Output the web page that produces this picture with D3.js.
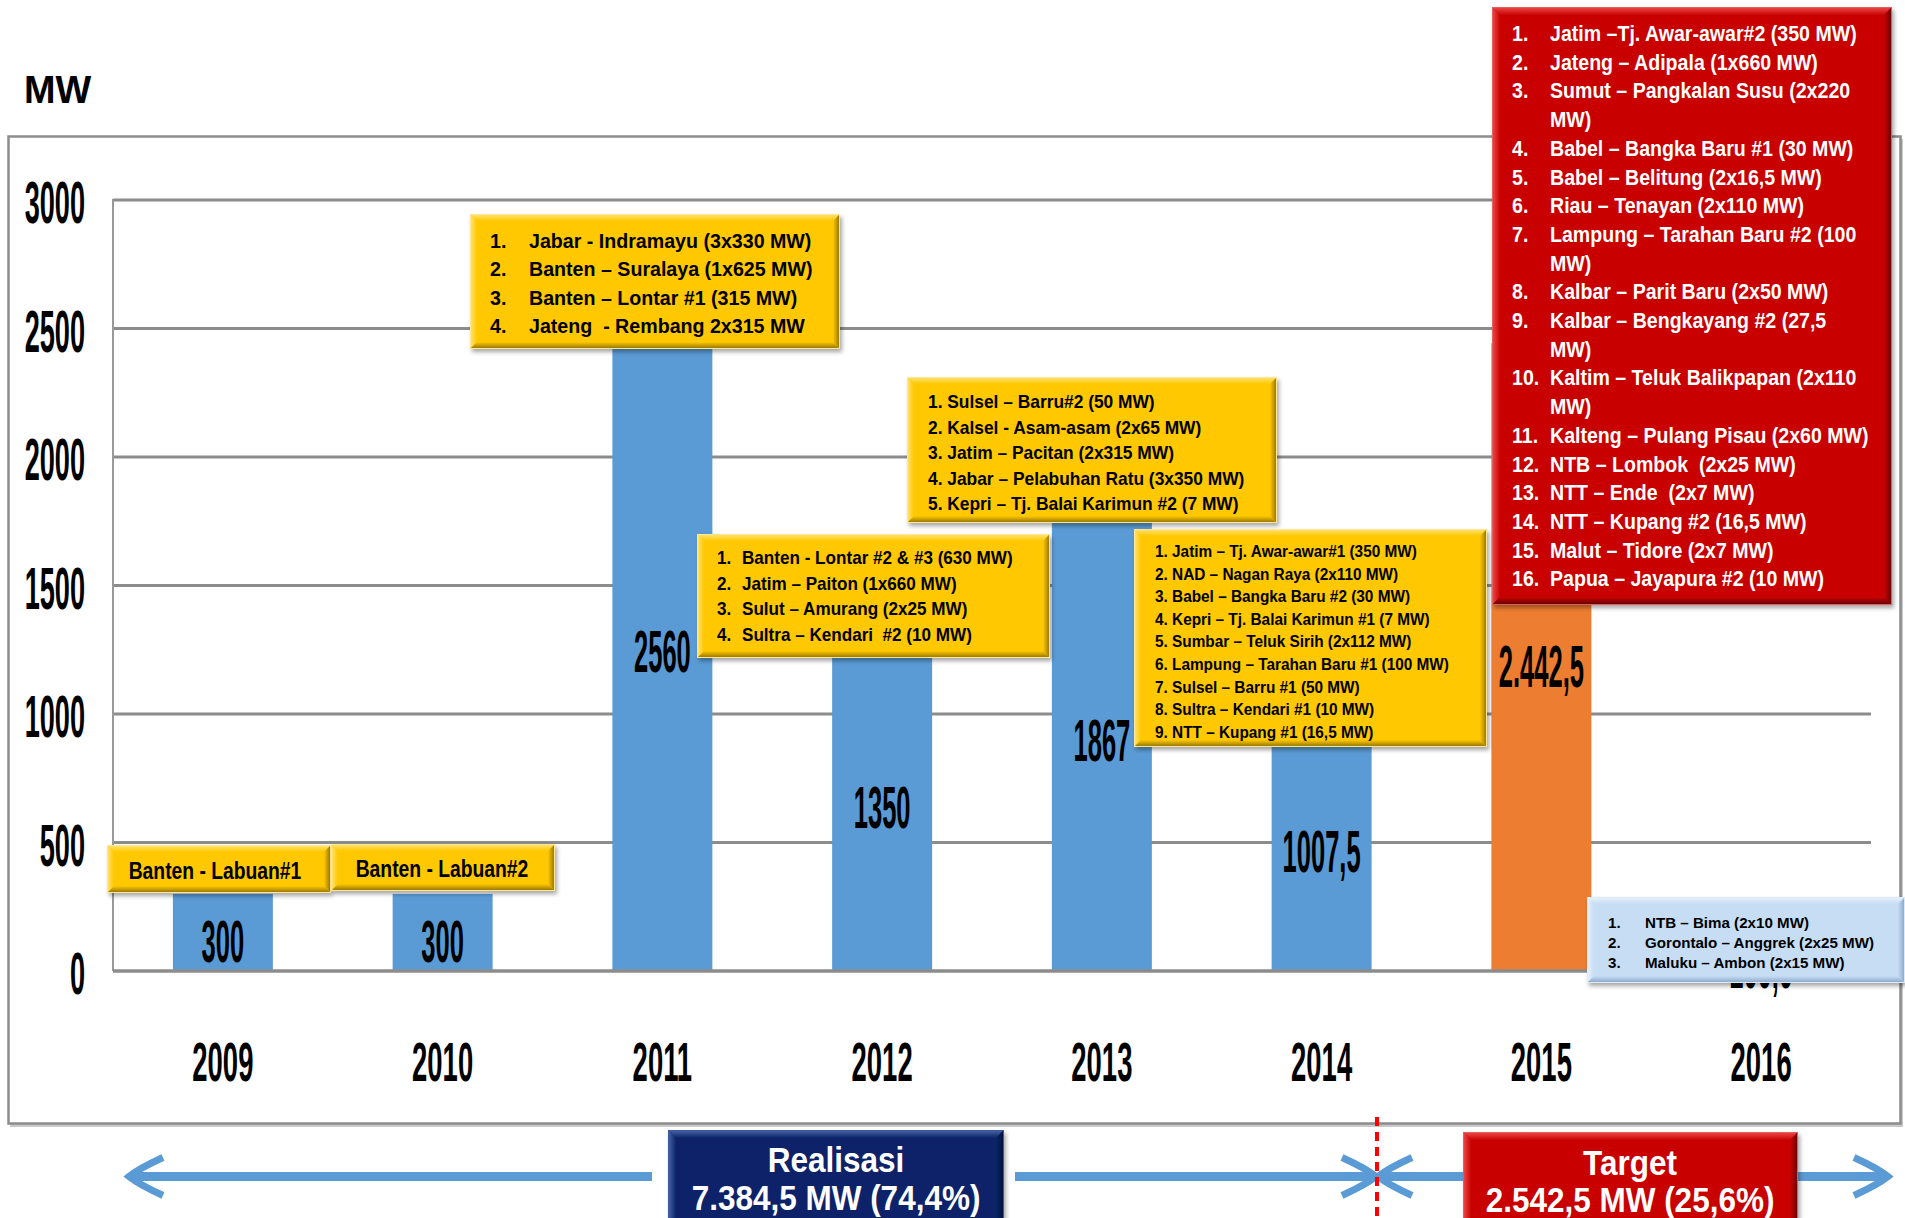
<!DOCTYPE html>
<html><head><meta charset="utf-8">
<script src="https://cdn.jsdelivr.net/npm/d3@7"></script>
<style>
html,body{margin:0;padding:0;background:#fff;overflow:hidden}
svg{display:block}
text{font-family:"Liberation Sans",Arial,sans-serif;font-weight:bold}
</style>
</head><body>
<svg id="chart" width="1905" height="1218"></svg>
<script>
// ---------------- data ----------------
const years = ["2009","2010","2011","2012","2013","2014","2015","2016"];
const values = [300, 300, 2560, 1350, 1867, 1007.5, 2442.5, 100];
const valueLabels = ["300","300","2560","1350","1867","1007,5","2.442,5","100,0"];
const phase = ["real","real","real","real","real","real","target","target"];
const yTicks = [0, 500, 1000, 1500, 2000, 2500, 3000];
const yTickLabels = ["0","500","1000","1500","2000","2500","3000"];

const list2009 = ["Banten - Labuan#1"];
const list2010 = ["Banten - Labuan#2"];
const list2011 = [["Jabar - Indramayu (3x330 MW)"],["Banten – Suralaya (1x625 MW)"],["Banten – Lontar #1 (315 MW)"],["Jateng  - Rembang 2x315 MW"]];
const list2012 = [["Banten - Lontar #2 & #3 (630 MW)"],["Jatim – Paiton (1x660 MW)"],["Sulut – Amurang (2x25 MW)"],["Sultra – Kendari  #2 (10 MW)"]];
const list2013 = [["Sulsel – Barru#2 (50 MW)"],["Kalsel - Asam-asam (2x65 MW)"],["Jatim – Pacitan (2x315 MW)"],["Jabar – Pelabuhan Ratu (3x350 MW)"],["Kepri – Tj. Balai Karimun #2 (7 MW)"]];
const list2014 = [["Jatim – Tj. Awar-awar#1 (350 MW)"],["NAD – Nagan Raya (2x110 MW)"],["Babel – Bangka Baru #2 (30 MW)"],["Kepri – Tj. Balai Karimun #1 (7 MW)"],["Sumbar – Teluk Sirih (2x112 MW)"],["Lampung – Tarahan Baru #1 (100 MW)"],["Sulsel – Barru #1 (50 MW)"],["Sultra – Kendari #1 (10 MW)"],["NTT – Kupang #1 (16,5 MW)"]];
const list2015 = [["Jatim –Tj. Awar-awar#2 (350 MW)"],["Jateng – Adipala (1x660 MW)"],["Sumut – Pangkalan Susu (2x220","MW)"],["Babel – Bangka Baru #1 (30 MW)"],["Babel – Belitung (2x16,5 MW)"],["Riau – Tenayan (2x110 MW)"],["Lampung – Tarahan Baru #2 (100","MW)"],["Kalbar – Parit Baru (2x50 MW)"],["Kalbar – Bengkayang #2 (27,5","MW)"],["Kaltim – Teluk Balikpapan (2x110","MW)"],["Kalteng – Pulang Pisau (2x60 MW)"],["NTB – Lombok  (2x25 MW)"],["NTT – Ende  (2x7 MW)"],["NTT – Kupang #2 (16,5 MW)"],["Malut – Tidore (2x7 MW)"],["Papua – Jayapura #2 (10 MW)"]];
const list2016 = [["NTB – Bima (2x10 MW)"],["Gorontalo – Anggrek (2x25 MW)"],["Maluku – Ambon (2x15 MW)"]];
const realisasiText = ["Realisasi","7.384,5 MW (74,4%)"];
const targetText = ["Target","2.542,5 MW (25,6%)"];

// ---------------- setup ----------------
const svg = d3.select("#chart");
svg.append("rect").attr("width",1905).attr("height",1218).attr("fill","#fff");
const defs = svg.append("defs");

const x = d3.scaleBand().domain(years).range([113, 1871]).paddingInner(0.545).paddingOuter(0.2725);
const y = d3.scaleLinear().domain([0, 3000]).range([971, 200]);

function txt(parent, s, tx, ty, o) {
  return parent.append("text")
    .attr("transform", `translate(${tx},${ty}) scale(${o.sx||1},${o.sy||1})`)
    .attr("text-anchor", o.anchor || "start")
    .attr("font-size", o.size)
    .attr("fill", o.fill || "#000")
    .attr("xml:space","preserve")
    .text(s);
}

const schemes = {
  yellow: {base:"#FFC800", light:"#FFE57A", dark:"#8C6E00", edge:"#FFE699"},
  red:    {base:"#C80404", light:"#F24A4A", dark:"#5E0000", edge:"#E06060"},
  blue:   {base:"#C6DDF4", light:"#EAF3FC", dark:"#86A3C6", edge:"#DDEBF7"},
  navy:   {base:"#0A2468", light:"#4A67A8", dark:"#00103A", edge:"#3C5A9A"},
  tred:   {base:"#C80404", light:"#F24A4A", dark:"#6A0000", edge:"#E06060"}
};
Object.entries(schemes).forEach(([k, c]) => {
  const mk = (id, x1,y1,x2,y2, c1, c2) => {
    const g = defs.append("linearGradient").attr("id", id)
      .attr("x1",x1).attr("y1",y1).attr("x2",x2).attr("y2",y2);
    g.append("stop").attr("offset","0").attr("stop-color",c1);
    g.append("stop").attr("offset","1").attr("stop-color",c2);
  };
  mk(k+"-top", 0,0,0,1, c.light, c.base);
  mk(k+"-left", 0,0,1,0, c.light, c.base);
  mk(k+"-right", 0,0,1,0, c.base, c.dark);
  mk(k+"-bottom", 0,0,0,1, c.base, c.dark);
});
const sh = defs.append("filter").attr("id","shadow").attr("x","-10%").attr("y","-10%").attr("width","130%").attr("height","130%");
sh.append("feDropShadow").attr("dx",2).attr("dy",3).attr("stdDeviation",2).attr("flood-color","#000").attr("flood-opacity",0.35);

function bevelBox(parent, bx, by, w, h, scheme, b) {
  const c = schemes[scheme];
  const g = parent.append("g");
  g.append("rect").attr("x",bx).attr("y",by).attr("width",w).attr("height",h)
    .attr("fill",c.base).attr("filter","url(#shadow)");
  const poly = (pts, fill) => g.append("polygon").attr("points", pts.map(p=>p.join(",")).join(" ")).attr("fill", fill);
  poly([[bx,by],[bx+w,by],[bx+w-b,by+b],[bx+b,by+b]], `url(#${scheme}-top)`);
  poly([[bx,by],[bx+b,by+b],[bx+b,by+h-b],[bx,by+h]], `url(#${scheme}-left)`);
  poly([[bx+w,by],[bx+w,by+h],[bx+w-b,by+h-b],[bx+w-b,by+b]], `url(#${scheme}-right)`);
  poly([[bx,by+h],[bx+w,by+h],[bx+w-b,by+h-b],[bx+b,by+h-b]], `url(#${scheme}-bottom)`);
  g.append("rect").attr("x",bx+0.5).attr("y",by+0.5).attr("width",w-1).attr("height",h-1)
    .attr("fill","none").attr("stroke",c.edge).attr("stroke-width",1);
  return g;
}

function listBox(spec) {
  const g = bevelBox(svg, spec.bx, spec.by, spec.w, spec.h, spec.scheme, spec.bevel || 7);
  let k = 0;
  spec.items.forEach((lines, i) => {
    lines.forEach((ln, j) => {
      const ty = spec.base0 + k * spec.step;
      const o = {size: spec.size, sx: spec.sx, sy: spec.sy, fill: spec.fill};
      if (spec.inline) {
        txt(g, (j === 0 ? (i+1) + ". " : "") + ln, spec.numX, ty, o);
      } else {
        if (j === 0) txt(g, (i+1) + ".", spec.numX, ty, o);
        txt(g, ln, spec.textX, ty, o);
      }
      k++;
    });
  });
}

// ---------------- frame ----------------
svg.append("rect").attr("x",10).attr("y",139).attr("width",1893).attr("height",988).attr("fill","#c8c8c8");
svg.append("rect").attr("x",8.5).attr("y",136.5).attr("width",1892).attr("height",987)
  .attr("fill","#fff").attr("stroke","#8c8c8c").attr("stroke-width",2.5);

txt(svg, "MW", 24, 103, {size: 39, sx: 0.97});

// ---------------- grid & axes ----------------
const plot = svg.append("g");
plot.selectAll("line.grid").data(yTicks.filter(d => d > 0)).enter().append("line")
  .attr("x1",113).attr("x2",1871).attr("y1",d=>y(d)).attr("y2",d=>y(d))
  .attr("stroke","#8c8c8c").attr("stroke-width",3);
plot.append("line").attr("x1",113).attr("x2",113).attr("y1",y(3000)-1).attr("y2",y(0))
  .attr("stroke","#999").attr("stroke-width",2);

yTicks.forEach((t, i) => {
  txt(plot, yTickLabels[i], 85, y(t) + 23, {size: 59, sx: 0.46, anchor: "end"});
});
years.forEach(yr => {
  txt(plot, yr, x(yr) + x.bandwidth()/2, 1081, {size: 56, sx: 0.49, anchor: "middle"});
});

// ---------------- bars ----------------
const bars = svg.append("g");
bars.selectAll("rect").data(years).enter().append("rect")
  .attr("x", d => x(d)).attr("width", x.bandwidth())
  .attr("y", (d,i) => y(values[i])).attr("height", (d,i) => y(0) - y(values[i]))
  .attr("fill", (d,i) => phase[i] === "real" ? "#5B9BD5" : "#ED7D31");
svg.append("line").attr("x1",113).attr("x2",1871).attr("y1",y(0)).attr("y2",y(0))
  .attr("stroke","#8c8c8c").attr("stroke-width",3.5);
years.forEach((yr, i) => {
  txt(svg, valueLabels[i], x(yr) + x.bandwidth()/2, y(values[i]/2) + 30, {size: 58.7, sx: 0.435, anchor: "middle"});
});

// ---------------- callouts ----------------
const b1 = bevelBox(svg, 107, 845, 224, 48, "yellow", 7);
txt(b1, list2009[0], 215, 879, {size: 23, sx: 0.84, anchor: "middle"});
const b2 = bevelBox(svg, 331, 844, 224, 47, "yellow", 7);
txt(b2, list2010[0], 442, 877, {size: 23, sx: 0.84, anchor: "middle"});

listBox({bx:470, by:214, w:370, h:135, scheme:"yellow", items:list2011, numX:490, textX:529, base0:248, step:28.3, size:21, sx:0.935});
listBox({bx:907, by:377, w:370, h:146, scheme:"yellow", items:list2013, inline:true, numX:928, base0:408, step:25.5, size:18, sx:0.965});
listBox({bx:697, by:534, w:353, h:124, scheme:"yellow", items:list2012, numX:717, textX:742, base0:564, step:25.5, size:18, sx:0.95});
listBox({bx:1134, by:529, w:353, h:218, scheme:"yellow", items:list2014, inline:true, numX:1155, base0:557, step:22.6, size:16, sx:0.96});
listBox({bx:1492, by:7, w:400, h:598, scheme:"red", items:list2015, numX:1512, textX:1550, base0:41, step:28.7, size:22, sx:0.89, fill:"#fff", bevel:8});
listBox({bx:1587, by:897, w:318, h:86, scheme:"blue", items:list2016, numX:1608, textX:1645, base0:928, step:20, size:15.3, sx:0.99, sy:0.95});

// ---------------- bottom timeline ----------------
const arrowC = "#5B9BD5";
const ay = 1176.5;
const tl = svg.append("g").attr("fill","none").attr("stroke",arrowC).attr("stroke-width",9);
tl.append("line").attr("x1",132).attr("x2",652).attr("y1",ay).attr("y2",ay);
tl.append("line").attr("x1",1015).attr("x2",1370).attr("y1",ay).attr("y2",ay);
tl.append("line").attr("x1",1384).attr("x2",1466).attr("y1",ay).attr("y2",ay);
tl.append("line").attr("x1",1796).attr("x2",1884).attr("y1",ay).attr("y2",ay);
const head = (tip, dir) => {
  const d = dir;
  return `M${tip + d*34},${ay-19} Q${tip + d*10},${ay-8} ${tip},${ay} Q${tip + d*10},${ay+8} ${tip + d*34},${ay+19}`;
};
tl.append("path").attr("d", head(129, 1)).attr("stroke-width",7);
tl.append("path").attr("d", head(1376, -1)).attr("stroke-width",7);
tl.append("path").attr("d", head(1378, 1)).attr("stroke-width",7);
tl.append("path").attr("d", head(1888, -1)).attr("stroke-width",7);

svg.append("line").attr("x1",1377).attr("x2",1377).attr("y1",1117).attr("y2",1218)
  .attr("stroke","#FF0000").attr("stroke-width",4).attr("stroke-dasharray","9,6");

const rb = bevelBox(svg, 668, 1130, 336, 100, "navy", 8);
txt(rb, realisasiText[0], 836, 1172, {size: 35, sx: 0.9, anchor: "middle", fill: "#fff"});
txt(rb, realisasiText[1], 836, 1210, {size: 35, sx: 0.9, anchor: "middle", fill: "#fff"});
const tb = bevelBox(svg, 1463, 1132, 335, 100, "tred", 8);
txt(tb, targetText[0], 1630, 1175, {size: 35, sx: 0.9, anchor: "middle", fill: "#fff"});
txt(tb, targetText[1], 1630, 1212, {size: 35, sx: 0.9, anchor: "middle", fill: "#fff"});
</script>
</body></html>
